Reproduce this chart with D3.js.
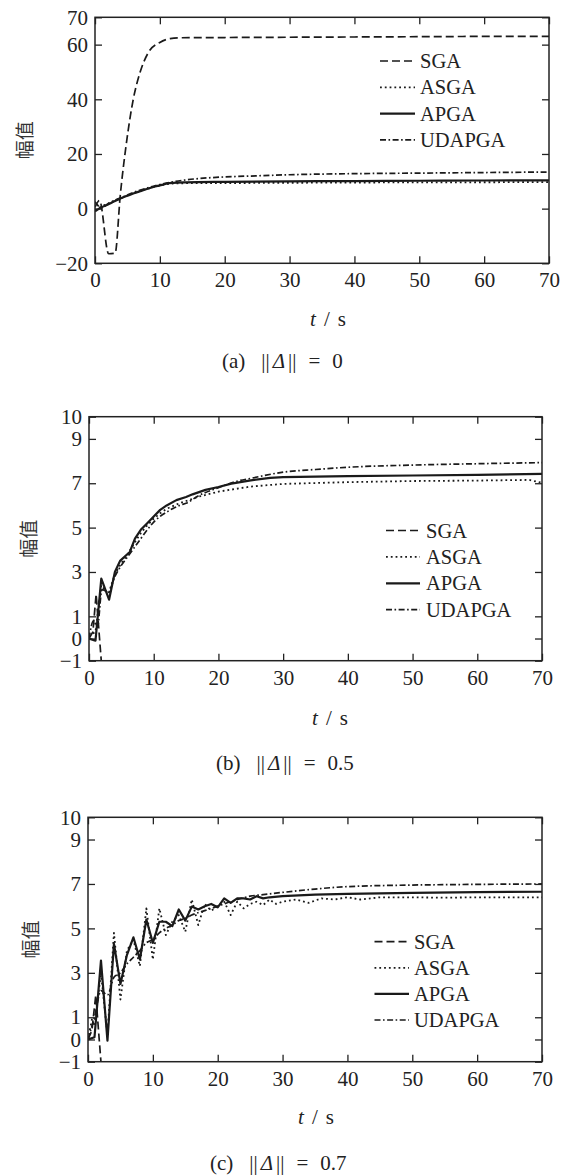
<!DOCTYPE html>
<html>
<head>
<meta charset="utf-8">
<script src="https://cdn.jsdelivr.net/npm/d3@7"></script>
<style>
  body { margin: 0; background: #fff; }
  svg { display: block; }
  text { font-family: "Liberation Serif", "Times New Roman", serif; fill: #222; }
</style>
</head>
<body>
<div id="chart"></div>
<script>
var seriesNames = ["SGA", "ASGA", "APGA", "UDAPGA"];
var timeTicks = [0, 10, 20, 30, 40, 50, 60, 70];
var ampTicksA = [-20, 0, 20, 40, 60, 70];
var ampTicksBC = [-1, 0, 1, 3, 5, 7, 9, 10];
var captionTags = ["(a)", "(b)", "(c)"];
var deltaNorms = ["0", "0.5", "0.7"];

// (a) ||Δ|| = 0
var sgaA = [[0,0.5],[0.7,3],[2.1,-16.5],[3.1,-16.3],[3.9,5],[4.9,25],[5.9,40],[6.9,49.5],[8.2,57],[10,60.8],[11.6,62.2],[13,62.5],[20,62.6],[30,62.7],[40,62.8],[50,62.9],[60,63],[70,63]];
var asgaA = [[0,-0.5],[1,0.8],[2,1.8],[3,2.8],[4,3.8],[5,4.8],[6,5.7],[7,6.5],[8,7.2],[9,7.9],[10,8.4],[11,8.9],[12,9.2],[14,9.3],[20,9.35],[30,9.45],[40,9.55],[50,9.6],[60,9.65],[70,9.7]];
var apgaA = [[0,-1],[1,0.5],[2,1.5],[3,2.7],[4,3.8],[5,4.7],[6,5.6],[7,6.4],[8,7.2],[9,7.9],[10,8.5],[11,9.1],[12,9.4],[14,9.6],[20,9.8],[30,10],[40,10.1],[50,10.2],[60,10.3],[70,10.35]];
var udapgaA = [[0,2.5],[1,0.3],[2,1.8],[3,3],[4,4],[5,5],[6,6],[7,6.8],[8,7.5],[9,8.2],[10,8.8],[12,9.8],[14,10.5],[16,11],[20,11.6],[25,12],[30,12.4],[40,12.8],[50,13],[60,13.2],[70,13.4]];

// (b) ||Δ|| = 0.5
var sgaB = [[0,0],[0.6,0.3],[1.1,2.0],[2.0,-1.4],[2.3,-3]];
var asgaB = [[0,0.1],[1,0.3],[1.9,2.4],[3,2.0],[4,2.9],[5,3.4],[6,3.8],[7,4.3],[8,4.75],[9,5.1],[10,5.4],[11,5.65],[12,5.85],[14,6.1],[15,6.2],[17,6.4],[20,6.62],[25,6.85],[30,6.97],[40,7.05],[50,7.1],[60,7.12],[68,7.15],[70,7.02]];
var apgaB = [[0,0],[1,-0.1],[1.9,2.7],[3.1,1.75],[4,3.0],[4.8,3.5],[6.3,3.9],[7.1,4.5],[8,4.9],[9,5.2],[10,5.5],[11,5.8],[12,6.0],[13.5,6.24],[15,6.38],[16,6.5],[18,6.7],[20,6.83],[22,6.98],[25,7.13],[28,7.24],[30,7.28],[40,7.32],[50,7.35],[60,7.38],[70,7.42]];
var udapgaB = [[0,0],[0.7,0.8],[1.3,0.5],[2,2.2],[3,2.1],[4,2.8],[5,3.3],[6,3.7],[7,4.1],[8,4.5],[9,4.9],[10,5.25],[12,5.7],[14,6.0],[15,6.1],[17,6.45],[20,6.8],[23,7.1],[25,7.22],[30,7.5],[35,7.62],[40,7.72],[50,7.82],[60,7.88],[70,7.93]];

// (c) ||Δ|| = 0.7
var sgaC = [[0,0],[0.6,0.4],[1.2,2.0],[2.1,-1.4],[2.4,-3]];
var asgaC = [[0,0],[0.6,0.9],[1,0.6],[2,3.0],[3,0.2],[4,4.8],[5,1.8],[6,4.0],[7,4.5],[8,3.3],[9,5.9],[10,3.6],[11,5.9],[12,4.7],[13,5.3],[14,5.6],[15,4.85],[16,6.3],[17,5.15],[18,6.1],[19,5.8],[20,6.0],[21,6.2],[22,5.6],[23,6.2],[24,5.9],[25,6.1],[26,6.2],[27,6.05],[28,6.3],[29,6.1],[30,6.2],[32,6.3],[34,6.15],[36,6.35],[38,6.3],[40,6.4],[42,6.3],[45,6.4],[50,6.4],[55,6.38],[60,6.4],[70,6.4]];
var apgaC = [[0,0],[1,0.1],[2,3.55],[3,-0.05],[4,4.3],[5,2.5],[6,3.8],[7,4.6],[8,3.6],[9,5.4],[10,4.35],[11,5.3],[12,5.3],[13,5.1],[14,5.85],[15,5.35],[16,5.98],[17,5.85],[18,6.0],[19,6.1],[20,5.95],[21,6.35],[22,6.15],[23,6.35],[24,6.35],[25,6.3],[26,6.45],[27,6.35],[28,6.4],[30,6.45],[35,6.52],[40,6.55],[50,6.6],[60,6.63],[70,6.65]];
var udapgaC = [[0,0],[0.5,0.5],[1,1.0],[2,2.2],[3,2.0],[4,2.8],[5,3.0],[6,3.4],[7,3.7],[8,4.0],[9,4.35],[10,4.5],[11,4.8],[12,5.0],[13,5.15],[14,5.35],[15,5.45],[16,5.6],[18,5.8],[20,6.0],[22,6.2],[25,6.45],[27,6.52],[30,6.62],[35,6.77],[40,6.88],[50,6.95],[60,6.98],[70,7.0]];

var width = 568, height = 1176;

var svg = d3.select('#chart')
  .append('svg')
  .attr('width', width)
  .attr('height', height);

var lineStyle = {
  SGA:    {dash: "8,4", w: 1.7},
  ASGA:   {dash: "1.8,3", w: 1.8},
  APGA:   {dash: null, w: 2.2},
  UDAPGA: {dash: "6,2.5,1.6,2.5", w: 1.7}
};

var panels = [
  {left: 95, right: 549, top: 17.3, bottom: 263.3, domain: [-20, 70], ticks: ampTicksA,
   data: [sgaA, asgaA, apgaA, udapgaA], smooth: [true, true, true, true],
   leg: {x0: 380, x1: 415, tx: 420, y: 61, dy: 26.3}, ylabX: 25,
   tx: 328, ty: 326, capX: 222, capY: 368},
  {left: 89, right: 542, top: 416.7, bottom: 660.7, domain: [-1, 10], ticks: ampTicksBC,
   data: [sgaB, asgaB, apgaB, udapgaB], smooth: [false, false, false, true],
   leg: {x0: 386, x1: 420, tx: 426, y: 530.5, dy: 26.4}, ylabX: 29,
   tx: 330, ty: 725, capX: 216, capY: 770},
  {left: 88, right: 542, top: 817.3, bottom: 1061.7, domain: [-1, 10], ticks: ampTicksBC,
   data: [sgaC, asgaC, apgaC, udapgaC], smooth: [false, false, false, true],
   leg: {x0: 374.5, x1: 409, tx: 414, y: 941.7, dy: 26.1}, ylabX: 31,
   tx: 316, ty: 1124, capX: 210, capY: 1170}
];

function fmt(d) {
  return d < 0 ? "\u2212" + Math.abs(d) : String(d);
}

function styleAxis(g) {
  g.attr('font-family', null).attr('font-size', 21);
  g.select('.domain').remove();
  g.selectAll('line').attr('stroke', '#222').attr('stroke-width', 1.3);
  g.selectAll('text').attr('fill', '#222');
}

panels.forEach(function(p, i) {
  var x = d3.scaleLinear().domain([0, 70]).range([p.left, p.right]);
  var y = d3.scaleLinear().domain(p.domain).range([p.bottom, p.top]);

  svg.append('clipPath').attr('id', 'clip' + i)
    .append('rect')
    .attr('x', p.left).attr('y', p.top)
    .attr('width', p.right - p.left).attr('height', p.bottom - p.top);

  // curves
  var plot = svg.append('g').attr('clip-path', 'url(#clip' + i + ')');
  seriesNames.forEach(function(name, k) {
    var line = d3.line()
      .x(d => x(d[0]))
      .y(d => y(d[1]))
      .curve(p.smooth[k] ? d3.curveMonotoneX : d3.curveLinear);
    plot.append('path')
      .datum(p.data[k])
      .attr('d', line)
      .attr('fill', 'none')
      .attr('stroke', '#1a1a1a')
      .attr('stroke-width', lineStyle[name].w)
      .attr('stroke-dasharray', lineStyle[name].dash)
      .attr('stroke-linejoin', 'round');
  });

  // axes, ticks pointing inward on all four sides
  svg.append('g')
    .attr('transform', `translate(0,${p.bottom})`)
    .call(d3.axisBottom(x).tickValues(timeTicks).tickSizeInner(-7).tickSizeOuter(0).tickPadding(9))
    .call(styleAxis);
  svg.append('g')
    .attr('transform', `translate(0,${p.top})`)
    .call(d3.axisTop(x).tickValues(timeTicks).tickSizeInner(-7).tickSizeOuter(0).tickFormat(''))
    .call(styleAxis);
  svg.append('g')
    .attr('transform', `translate(${p.left},0)`)
    .call(d3.axisLeft(y).tickValues(p.ticks).tickSizeInner(-7).tickSizeOuter(0).tickPadding(7).tickFormat(fmt))
    .call(styleAxis);
  svg.append('g')
    .attr('transform', `translate(${p.right},0)`)
    .call(d3.axisRight(y).tickValues(p.ticks).tickSizeInner(-7).tickSizeOuter(0).tickFormat(''))
    .call(styleAxis);

  // frame
  svg.append('rect')
    .attr('x', p.left).attr('y', p.top)
    .attr('width', p.right - p.left).attr('height', p.bottom - p.top)
    .attr('fill', 'none').attr('stroke', '#222').attr('stroke-width', 1.5);

  // legend
  seriesNames.forEach(function(name, k) {
    var ly = p.leg.y + k * p.leg.dy;
    svg.append('line')
      .attr('x1', p.leg.x0).attr('x2', p.leg.x1)
      .attr('y1', ly).attr('y2', ly)
      .attr('stroke', '#1a1a1a')
      .attr('stroke-width', lineStyle[name].w)
      .attr('stroke-dasharray', lineStyle[name].dash);
    svg.append('text')
      .attr('x', p.leg.tx).attr('y', ly)
      .attr('dy', '0.35em')
      .style('font-size', '20.5px')
      .text(name);
  });

  // y label
  svg.append('text')
    .attr('transform', `translate(${p.ylabX},${(p.top + p.bottom) / 2}) rotate(-90)`)
    .attr('text-anchor', 'middle')
    .attr('dy', '0.35em')
    .style('font-family', '"Noto Sans CJK SC", sans-serif')
    .style('font-size', '19px')
    .style('fill', '#333')
    .text('幅值');

  // x label  t / s
  var tl = svg.append('text')
    .attr('x', p.tx).attr('y', p.ty)
    .attr('text-anchor', 'middle')
    .style('font-size', '21px');
  tl.append('tspan').style('font-style', 'italic').text('t');
  tl.append('tspan').attr('dx', 8).text('/');
  tl.append('tspan').attr('dx', 8).text('s');

  // caption
  var cap = svg.append('text')
    .attr('x', p.capX).attr('y', p.capY)
    .style('font-size', '21px');
  cap.append('tspan').text(captionTags[i]);
  cap.append('tspan').attr('dx', 16).text('||');
  cap.append('tspan').attr('dx', 3).style('font-style', 'italic').text('\u0394');
  cap.append('tspan').attr('dx', 3).text('||');
  cap.append('tspan').attr('dx', 12).text('=');
  cap.append('tspan').attr('dx', 12).text(deltaNorms[i]);
});
</script>
</body>
</html>
